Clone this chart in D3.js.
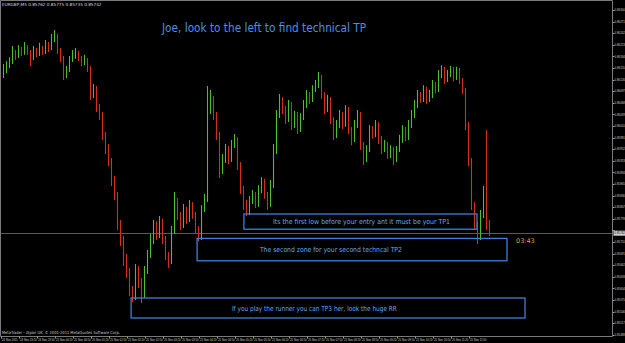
<!DOCTYPE html>
<html>
<head>
  <meta charset="utf-8">
  <title>EURGBP M5 - technical TP zones</title>
  <script src="https://d3js.org/d3.v7.min.js"></script>
  <style>
    body { margin: 0; background: #000; }
    svg { display: block; }
  </style>
</head>
<body>
  <script>
    // EURGBP M5 bars (open = previous close)
    let firstOpen = 0.86140;
    let closes = [
      0.86150,0.86160,0.86170,0.86195,0.86185,0.86200,0.86192,0.86207,0.86195,0.86182,
      0.86200,0.86190,0.86205,0.86195,0.86212,0.86205,0.86225,0.86235,0.86200,0.86180,
      0.86137,0.86150,0.86175,0.86185,0.86192,0.86180,0.86170,0.86175,0.86155,0.86087,
      0.86105,0.86055,0.86037,0.85987,0.85950,0.85925,0.85875,0.85837,0.85762,0.85725,
      0.85675,0.85645,0.85600,0.85580,0.85650,0.85620,0.85587,0.85650,0.85687,0.85725,
      0.85762,0.85737,0.85770,0.85725,0.85687,0.85670,0.85750,0.85825,0.85787,0.85762,
      0.85800,0.85775,0.85812,0.85787,0.85750,0.85730,0.85800,0.85825,0.86050,0.86075,
      0.86037,0.85987,0.85900,0.85925,0.85950,0.85925,0.85962,0.85975,0.85912,0.85850,
      0.85812,0.85790,0.85825,0.85837,0.85812,0.85850,0.85870,0.85837,0.85812,0.85862,
      0.85950,0.86037,0.86075,0.86050,0.86025,0.86062,0.86012,0.86037,0.86000,0.86030,
      0.86062,0.86087,0.86075,0.86100,0.86112,0.86130,0.86087,0.86050,0.86075,0.86025,
      0.85987,0.86012,0.86037,0.86012,0.86050,0.86000,0.85975,0.86012,0.86037,0.85962,
      0.85925,0.85950,0.86000,0.85987,0.86012,0.85975,0.85950,0.85962,0.85937,0.85950,
      0.85925,0.85950,0.85975,0.86000,0.85980,0.86012,0.86037,0.86062,0.86087,0.86075,
      0.86100,0.86075,0.86087,0.86112,0.86100,0.86137,0.86150,0.86125,0.86137,0.86150,
      0.86130,0.86150,0.86125,0.86100,0.86012,0.85925,0.85812,0.85762,0.85730,0.85787,
      0.85850,0.85762,0.85742
    ];
    let highs = [
      0.86165,0.86172,0.86182,0.86210,0.86200,0.86212,0.86208,0.86220,0.86212,0.86200,
      0.86210,0.86205,0.86218,0.86210,0.86225,0.86220,0.86240,0.86250,0.86240,0.86205,
      0.86185,0.86160,0.86185,0.86200,0.86205,0.86198,0.86185,0.86188,0.86180,0.86160,
      0.86115,0.86110,0.86065,0.86045,0.85995,0.85965,0.85930,0.85885,0.85845,0.85775,
      0.85735,0.85690,0.85655,0.85610,0.85665,0.85660,0.85630,0.85660,0.85700,0.85740,
      0.85775,0.85772,0.85785,0.85778,0.85735,0.85695,0.85760,0.85845,0.85830,0.85795,
      0.85815,0.85808,0.85825,0.85820,0.85795,0.85760,0.85812,0.85840,0.86110,0.86100,
      0.86085,0.86045,0.85995,0.85940,0.85965,0.85960,0.85975,0.85990,0.85982,0.85920,
      0.85860,0.85825,0.85835,0.85850,0.85845,0.85862,0.85882,0.85878,0.85845,0.85875,
      0.85965,0.86050,0.86090,0.86082,0.86060,0.86075,0.86070,0.86048,0.86045,0.86042,
      0.86075,0.86100,0.86095,0.86112,0.86125,0.86145,0.86138,0.86095,0.86088,0.86082,
      0.86032,0.86025,0.86050,0.86045,0.86062,0.86058,0.86008,0.86025,0.86050,0.86045,
      0.85970,0.85962,0.86012,0.86010,0.86025,0.86020,0.85985,0.85975,0.85970,0.85962,
      0.85958,0.85960,0.85988,0.86012,0.86008,0.86025,0.86050,0.86075,0.86100,0.86095,
      0.86112,0.86108,0.86100,0.86125,0.86120,0.86150,0.86162,0.86158,0.86150,0.86160,
      0.86158,0.86158,0.86155,0.86130,0.86105,0.86020,0.85930,0.85820,0.85770,0.85800,
      0.85860,0.86000,0.85775
    ];
    let lows = [
      0.86130,0.86142,0.86155,0.86165,0.86175,0.86180,0.86185,0.86188,0.86188,0.86160,
      0.86175,0.86182,0.86185,0.86188,0.86190,0.86195,0.86200,0.86220,0.86190,0.86170,
      0.86125,0.86130,0.86145,0.86170,0.86178,0.86172,0.86160,0.86162,0.86145,0.86075,
      0.86080,0.86045,0.86025,0.85975,0.85940,0.85910,0.85860,0.85825,0.85750,0.85710,
      0.85660,0.85630,0.85585,0.85570,0.85575,0.85605,0.85567,0.85580,0.85640,0.85680,
      0.85715,0.85725,0.85730,0.85715,0.85675,0.85655,0.85665,0.85740,0.85775,0.85750,
      0.85755,0.85765,0.85770,0.85778,0.85740,0.85722,0.85725,0.85795,0.85820,0.86040,
      0.86025,0.85975,0.85880,0.85890,0.85918,0.85915,0.85920,0.85955,0.85900,0.85840,
      0.85800,0.85785,0.85787,0.85815,0.85805,0.85808,0.85842,0.85828,0.85800,0.85808,
      0.85855,0.85940,0.86030,0.86040,0.86015,0.86020,0.86000,0.86005,0.85990,0.85995,
      0.86025,0.86055,0.86065,0.86070,0.86095,0.86105,0.86078,0.86040,0.86045,0.86015,
      0.85975,0.85980,0.86005,0.86002,0.86008,0.85990,0.85962,0.85970,0.86005,0.85950,
      0.85912,0.85920,0.85945,0.85978,0.85982,0.85965,0.85940,0.85945,0.85928,0.85930,
      0.85912,0.85920,0.85945,0.85968,0.85972,0.85975,0.86005,0.86030,0.86055,0.86068,
      0.86070,0.86065,0.86070,0.86080,0.86092,0.86095,0.86130,0.86115,0.86120,0.86132,
      0.86122,0.86125,0.86115,0.86090,0.86000,0.85910,0.85800,0.85750,0.85715,0.85725,
      0.85780,0.85750,0.85735
    ];

    // price scale labels on the right
    let priceTicks = [
      0.86300,0.86271,0.86242,0.86213,0.86184,0.86155,0.86126,0.86097,0.86068,0.86039,
      0.86010,0.85981,0.85952,0.85923,0.85894,0.85865,0.85836,0.85807,0.85778,0.85749,
      0.85720,0.85691,0.85662,0.85633,0.85604,0.85575,0.85546,0.85517,0.85488
    ];

    // time labels, one every 6 bars (30 minutes)
    let timeLabels = [
      "24 Nov 2011","24 Nov 23:20","24 Nov 23:50","25 Nov 00:20","25 Nov 00:50",
      "25 Nov 01:20","25 Nov 01:50","25 Nov 02:20","25 Nov 02:50","25 Nov 03:20",
      "25 Nov 03:50","25 Nov 04:20","25 Nov 04:50","25 Nov 05:20","25 Nov 05:50",
      "25 Nov 06:20","25 Nov 06:50","25 Nov 07:20","25 Nov 07:50","25 Nov 08:20",
      "25 Nov 08:50","25 Nov 09:20","25 Nov 09:50","25 Nov 10:20","25 Nov 10:50",
      "25 Nov 11:20","25 Nov 11:50"
    ];
    let labelEvery = 6;

    // annotation boxes: bar index range, price range, and where the note sits (bar index)
    let zones = [
      {text: "Its the first low before your entry ant it must be your TP1", from: 80.3, to: 158, top: 0.85790, bottom: 0.85752, at: 119.5, len: 177},
      {text: "The second zone for your second techncal TP2", from: 64.7, to: 168, top: 0.85729, bottom: 0.85673, at: 109.3, len: 142},
      {text: "If you play the runner you can TP3 her, look the huge RR", from: 42.7, to: 174, top: 0.85580, bottom: 0.85530, at: 103.8, len: 165}
    ];
    let title = "Joe, look to the left to find technical TP";
    let header = "EURGBP,M5  0.85762 0.85775 0.85735 0.85742";
    let copyright = "MetaTrader - Alpari UK, \u00a9 2001-2011 MetaQuotes Software Corp.";
    let countdown = "03:43";
    let bid = closes[closes.length - 1];

    let width = 625, height = 343;
    let axisX = 612.5, axisY = 336.5;
    let smallFont = "'Liberation Sans', Arial, sans-serif";

    let svg = d3.select("body").append("svg")
      .attr("width", width)
      .attr("height", height)
      .style("background", "#000");

    let x = d3.scaleLinear().domain([0, closes.length - 1]).range([3, 489]);
    let y = d3.scaleLinear()
      .domain([priceTicks[0], priceTicks[priceTicks.length - 1]])
      .range([10, 334.8]);

    // chart frame
    svg.append("path")
      .attr("d", "M0.5," + axisY + "V0.5H" + axisX + "V" + axisY + "H0.5")
      .attr("fill", "none")
      .attr("stroke", "#7a7a7a");

    // bid line
    svg.append("line")
      .attr("x1", 1).attr("x2", axisX)
      .attr("y1", Math.round(y(bid)) + 0.5).attr("y2", Math.round(y(bid)) + 0.5)
      .attr("stroke", "#5a5a5a");

    // bars
    let bars = closes.map(function(c, i) {
      return {open: i === 0 ? firstOpen : closes[i - 1], close: c, high: highs[i], low: lows[i], i: i};
    });
    svg.append("g").selectAll("line")
      .data(bars)
      .enter()
      .append("line")
      .attr("x1", function(d) { return Math.round(x(d.i)) + 0.5; })
      .attr("x2", function(d) { return Math.round(x(d.i)) + 0.5; })
      .attr("y1", function(d) { return y(d.high); })
      .attr("y2", function(d) { return y(d.low); })
      .attr("stroke", function(d) { return d.close >= d.open ? "#4cbf2a" : "#d2301c"; })
      .attr("stroke-width", 1.1);

    // zones
    let zg = svg.append("g");
    zones.forEach(function(z) {
      let x0 = x(z.from), x1 = x(z.to), y0 = y(z.top), y1 = y(z.bottom);
      zg.append("rect")
        .attr("x", x0).attr("y", y0)
        .attr("width", x1 - x0).attr("height", y1 - y0)
        .attr("fill", "none")
        .attr("stroke", "#3f7fd2")
        .attr("stroke-width", 1.3);
      zg.append("text")
        .attr("x", x(z.at) - z.len / 2)
        .attr("y", (y0 + y1) / 2 + 2.5)
        .attr("textLength", z.len)
        .attr("lengthAdjust", "spacingAndGlyphs")
        .attr("font-family", "'Comic Sans MS', 'DejaVu Sans', sans-serif")
        .attr("font-size", 7)
        .attr("fill", "#6aa6ee")
        .text(z.text);
    });

    // title
    svg.append("text")
      .attr("x", 162).attr("y", 32)
      .attr("textLength", 204)
      .attr("lengthAdjust", "spacingAndGlyphs")
      .attr("font-family", "'Comic Sans MS', 'DejaVu Sans', sans-serif")
      .attr("font-size", 12.5)
      .attr("fill", "#4d8fe2")
      .text(title);

    // price axis (the label under the bid box is hidden by it)
    let visibleTicks = priceTicks.filter(function(d) { return Math.abs(y(d) - y(bid)) > 4; });
    let pa = svg.append("g");
    pa.selectAll("line")
      .data(priceTicks)
      .enter()
      .append("line")
      .attr("x1", axisX).attr("x2", axisX + 2)
      .attr("y1", function(d) { return Math.round(y(d)) + 0.5; })
      .attr("y2", function(d) { return Math.round(y(d)) + 0.5; })
      .attr("stroke", "#9a9a9a");
    pa.selectAll("text")
      .data(visibleTicks)
      .enter()
      .append("text")
      .attr("x", axisX + 2)
      .attr("y", function(d) { return y(d) + 1.1; })
      .attr("font-family", smallFont)
      .attr("font-size", 2.9)
      .attr("fill", "#c8c8c8")
      .text(function(d) { return d.toFixed(5); });

    // bid price box
    svg.append("rect")
      .attr("x", axisX + 1).attr("y", y(bid) - 2.5)
      .attr("width", 12).attr("height", 5)
      .attr("fill", "#d0d0d0");
    svg.append("text")
      .attr("x", axisX + 2).attr("y", y(bid) + 1.1)
      .attr("font-family", smallFont)
      .attr("font-size", 2.9)
      .attr("fill", "#000")
      .text(bid.toFixed(5));

    // countdown
    svg.append("text")
      .attr("x", 516).attr("y", 243)
      .attr("font-family", "'DejaVu Sans', sans-serif")
      .attr("font-size", 6.5)
      .attr("fill", "#e39a3c")
      .text(countdown);

    // time axis
    let ta = svg.append("g");
    ta.selectAll("text")
      .data(timeLabels)
      .enter()
      .append("text")
      .attr("x", function(d, k) { return x(k * labelEvery) - 1; })
      .attr("y", 341)
      .attr("font-family", smallFont)
      .attr("font-size", 2.8)
      .attr("fill", "#c8c8c8")
      .text(function(d) { return d; });
    ta.selectAll("line")
      .data(timeLabels)
      .enter()
      .append("line")
      .attr("x1", function(d, k) { return Math.round(x(k * labelEvery) - 2) + 0.5; })
      .attr("x2", function(d, k) { return Math.round(x(k * labelEvery) - 2) + 0.5; })
      .attr("y1", axisY).attr("y2", axisY + 2)
      .attr("stroke", "#9a9a9a");

    // header and copyright
    svg.append("text")
      .attr("x", 2).attr("y", 6)
      .attr("font-family", "'DejaVu Sans', sans-serif")
      .attr("font-size", 4.2)
      .attr("fill", "#d8d8d8")
      .text(header);
    svg.append("text")
      .attr("x", 2).attr("y", 334)
      .attr("textLength", 118)
      .attr("lengthAdjust", "spacingAndGlyphs")
      .attr("font-family", "'DejaVu Sans', sans-serif")
      .attr("font-size", 4.2)
      .attr("fill", "#c8c8c8")
      .text(copyright);
  </script>
</body>
</html>
